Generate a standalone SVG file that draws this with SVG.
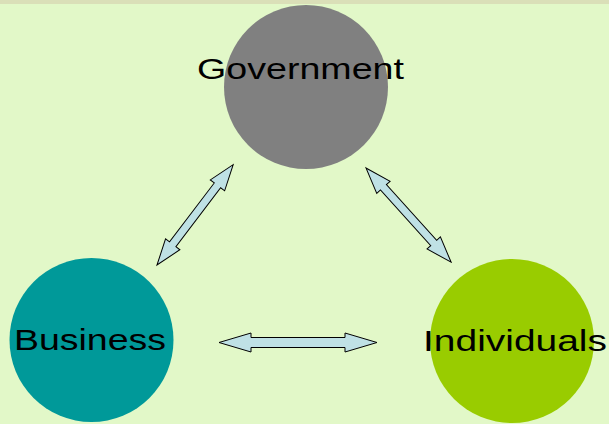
<svg xmlns="http://www.w3.org/2000/svg" width="609" height="424" viewBox="0 0 609 424">
  <style>
    .arrow { fill: #bfe1e5; stroke: #000; stroke-width: 1; stroke-linejoin: miter; }
    .label { font-family: "Liberation Sans", Arial, sans-serif; font-size: 29px; fill: #000; }
  </style>
  <!-- background -->
  <rect x="0" y="0" width="609" height="424" fill="#e2f8c8"/>
  <rect x="0" y="0" width="609" height="4" fill="#dadfb8"/>

  <!-- connectors: double-headed block arrows -->
  <g id="connectors">
    <polygon class="arrow" transform="translate(157,265) rotate(-52.8)"
      points="0,0 26,-9 26,-4 100,-4 100,-9 126,0 100,9 100,4 26,4 26,9"/>
    <polygon class="arrow" transform="translate(366,168) rotate(47.9)"
      points="0,0 26,-9 26,-4 101,-4 101,-9 127,0 101,9 101,4 26,4 26,9"/>
    <polygon class="arrow"
      points="219,342.5 251,333 251,337.5 345,337.5 345,333 377,342.5 345,352 345,347.5 251,347.5 251,352"/>
  </g>

  <g id="government">
    <circle cx="306" cy="87" r="82" fill="#808080"/>
    <text class="label" x="197" y="79" textLength="207" lengthAdjust="spacingAndGlyphs">Government</text>
  </g>

  <g id="business">
    <circle cx="91.5" cy="340" r="82" fill="#009999"/>
    <text class="label" x="14" y="350" textLength="152" lengthAdjust="spacingAndGlyphs">Business</text>
  </g>

  <g id="individuals">
    <circle cx="512" cy="341" r="82" fill="#99cc00"/>
    <text class="label" x="423" y="351" textLength="184" lengthAdjust="spacingAndGlyphs">Individuals</text>
  </g>
</svg>
